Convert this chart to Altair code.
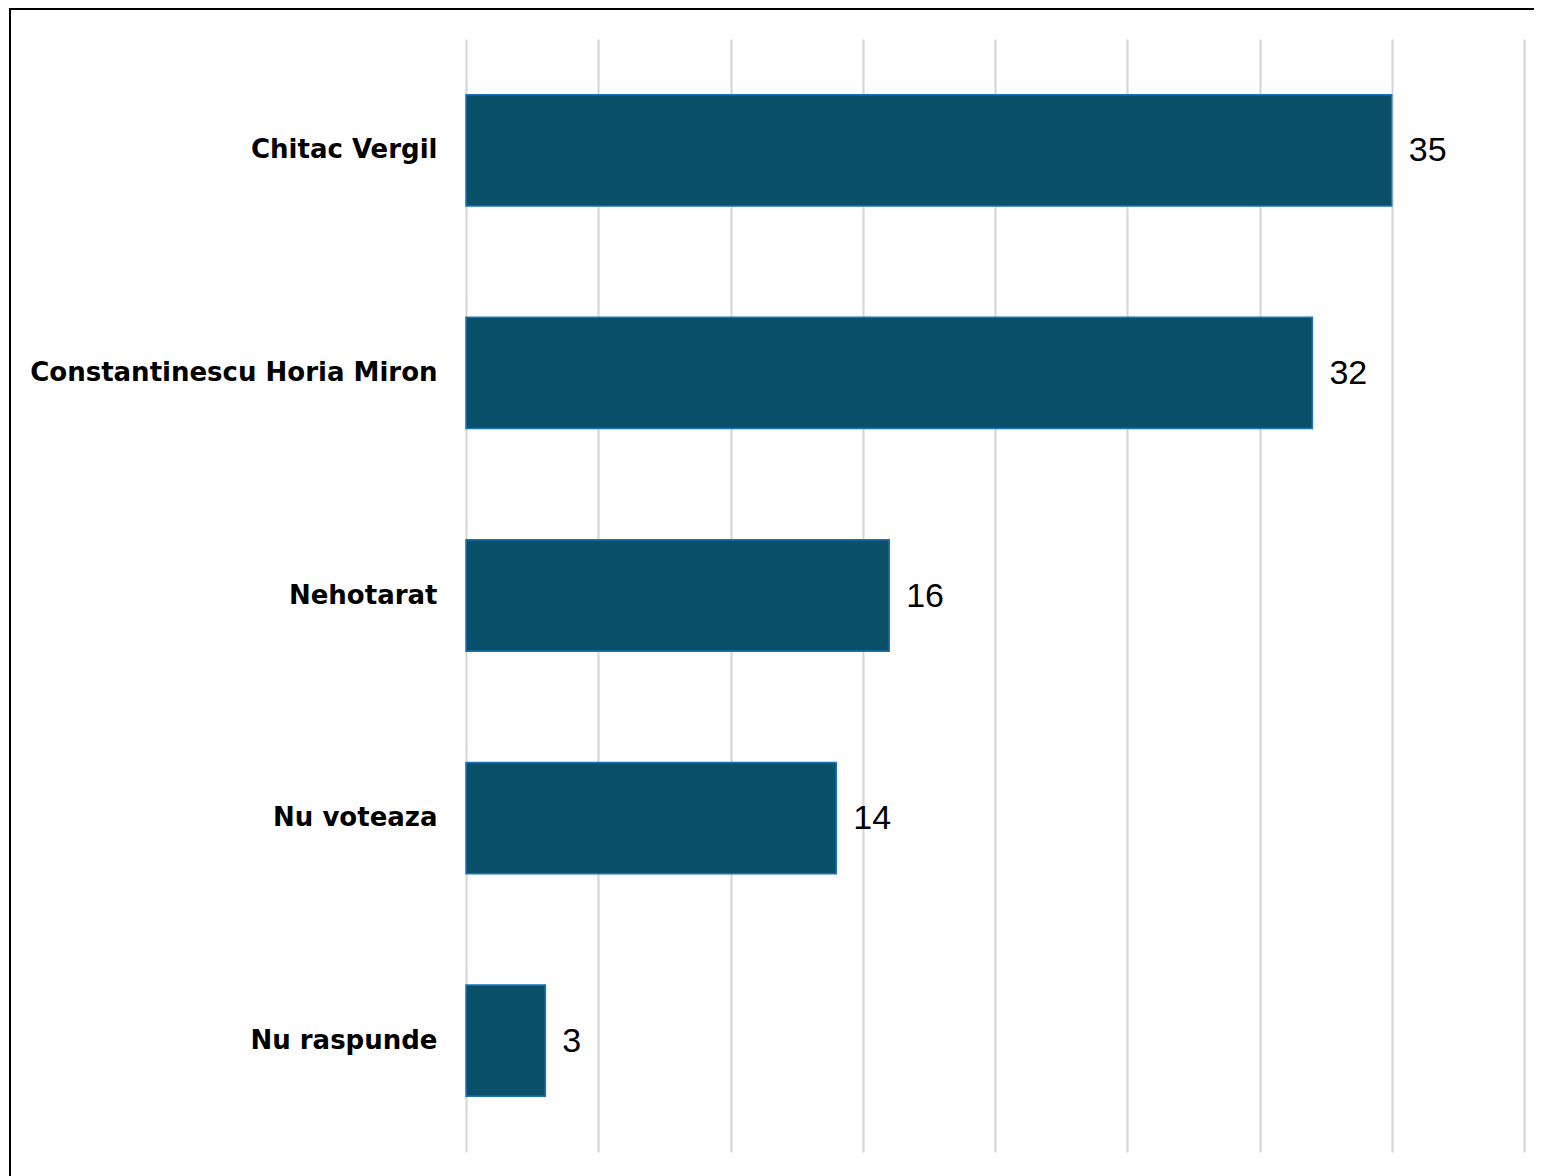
import altair as alt
import pandas as pd

categories = ["Chitac Vergil", "Constantinescu Horia Miron", "Nehotarat", "Nu voteaza", "Nu raspunde"]
values = [35, 32, 16, 14, 3]

df = pd.DataFrame({"cat": categories, "val": values})

W, H = 1058, 1113

y = alt.Y("cat:N", sort=categories, title=None,
          scale=alt.Scale(paddingInner=0.5, paddingOuter=0.25),
          axis=alt.Axis(labelFont="DejaVu Sans", labelFontWeight="bold", labelFontSize=26,
                        labelColor="black", labelPadding=29, ticks=False, domain=False, grid=False,
                        labelLimit=600))
x = alt.X("val:Q", title=None, scale=alt.Scale(domain=[0, 40], nice=False),
          axis=alt.Axis(values=[0, 5, 10, 15, 20, 25, 30, 35, 40], labels=False, ticks=False,
                        domain=False, grid=True, gridColor="#d4d4d4", gridWidth=2))

bars = alt.Chart(df).mark_bar(color="#0b5069", stroke="#1a72c0", strokeWidth=1.5).encode(x=x, y=y)
text = alt.Chart(df).mark_text(align="left", baseline="middle", dx=17, dy=1, font="Liberation Sans",
                               fontSize=34, color="black").encode(x="val:Q", y=alt.Y("cat:N", sort=categories), text="val:Q")

frame = alt.Chart(df).mark_rect(fill=None, filled=False, stroke="black", strokeWidth=2).encode(
    x=alt.value(-456), x2=alt.value(W + 200), y=alt.value(-30), y2=alt.value(H + 200))

chart = (bars + text + frame).properties(
    width=W, height=H,
    autosize=alt.AutoSizeParams(type="none"),
    padding={"left": 458, "top": 31, "right": 10, "bottom": 30},
).configure(background="white").configure_view(stroke=None)

chart.save("out.html", embed_options={"renderer": "svg", "actions": False})
